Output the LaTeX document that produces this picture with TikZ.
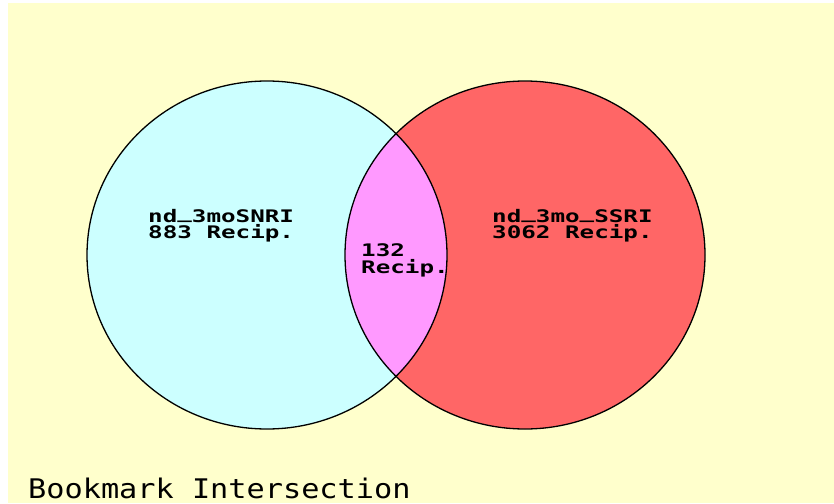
\documentclass[tikz,border=0pt]{standalone}
\usepackage{fontspec}
\newfontfamily\labfont[FakeStretch=1.4]{DejaVu Sans Mono}
\newfontfamily\titfont[FakeStretch=1.12]{DejaVu Sans Mono}
\newcommand\usc{\raisebox{0.2em}{\_}}
\definecolor{bgyellow}{HTML}{FFFFCC}
\definecolor{setcyan}{HTML}{CCFFFF}
\definecolor{setred}{HTML}{FF6666}
\definecolor{setpink}{HTML}{FF99FF}
\tikzset{
  lab/.style={font=\labfont\bfseries\fontsize{17.3pt}{16pt}\selectfont, inner sep=0pt,
    text height=11pt, text depth=1pt, anchor=base west},
  tit/.style={font=\titfont\fontsize{27pt}{27pt}\selectfont, inner sep=0pt, anchor=base west},
  rim/.style={draw=black, line width=1.3pt}
}
\begin{document}
\begin{tikzpicture}[x=1pt,y=-1pt]
\useasboundingbox (0,0) rectangle (834,503);
\fill[white] (0,0) rectangle (834,503);
\fill[bgyellow] (8,3) rectangle (834,503);
% sets
\fill[setcyan] (267,255) ellipse [x radius=180pt, y radius=174pt];
\fill[setred] (525,255) ellipse [x radius=180pt, y radius=174pt];
\begin{scope}
  \clip (267,255) ellipse [x radius=180pt, y radius=174pt];
  \fill[setpink] (525,255) ellipse [x radius=180pt, y radius=174pt];
\end{scope}
\draw[rim] (267,255) ellipse [x radius=180pt, y radius=174pt];
\draw[rim] (525,255) ellipse [x radius=180pt, y radius=174pt];
% labels
\node[lab] (l1) at (148,222) {nd\usc 3moSNRI};
\node[lab] (l2) at (148,238) {883 Recip.};
\node[lab] (r1) at (492,222) {nd\usc 3mo\usc SSRI};
\node[lab] (r2) at (492,238) {3062 Recip.};
\node[lab] (c1) at (361,256) {132};
\node[lab] (c2) at (361,273) {Recip.};
\node[tit] (title) at (28,498) {Bookmark Intersection};
\end{tikzpicture}
\end{document}
